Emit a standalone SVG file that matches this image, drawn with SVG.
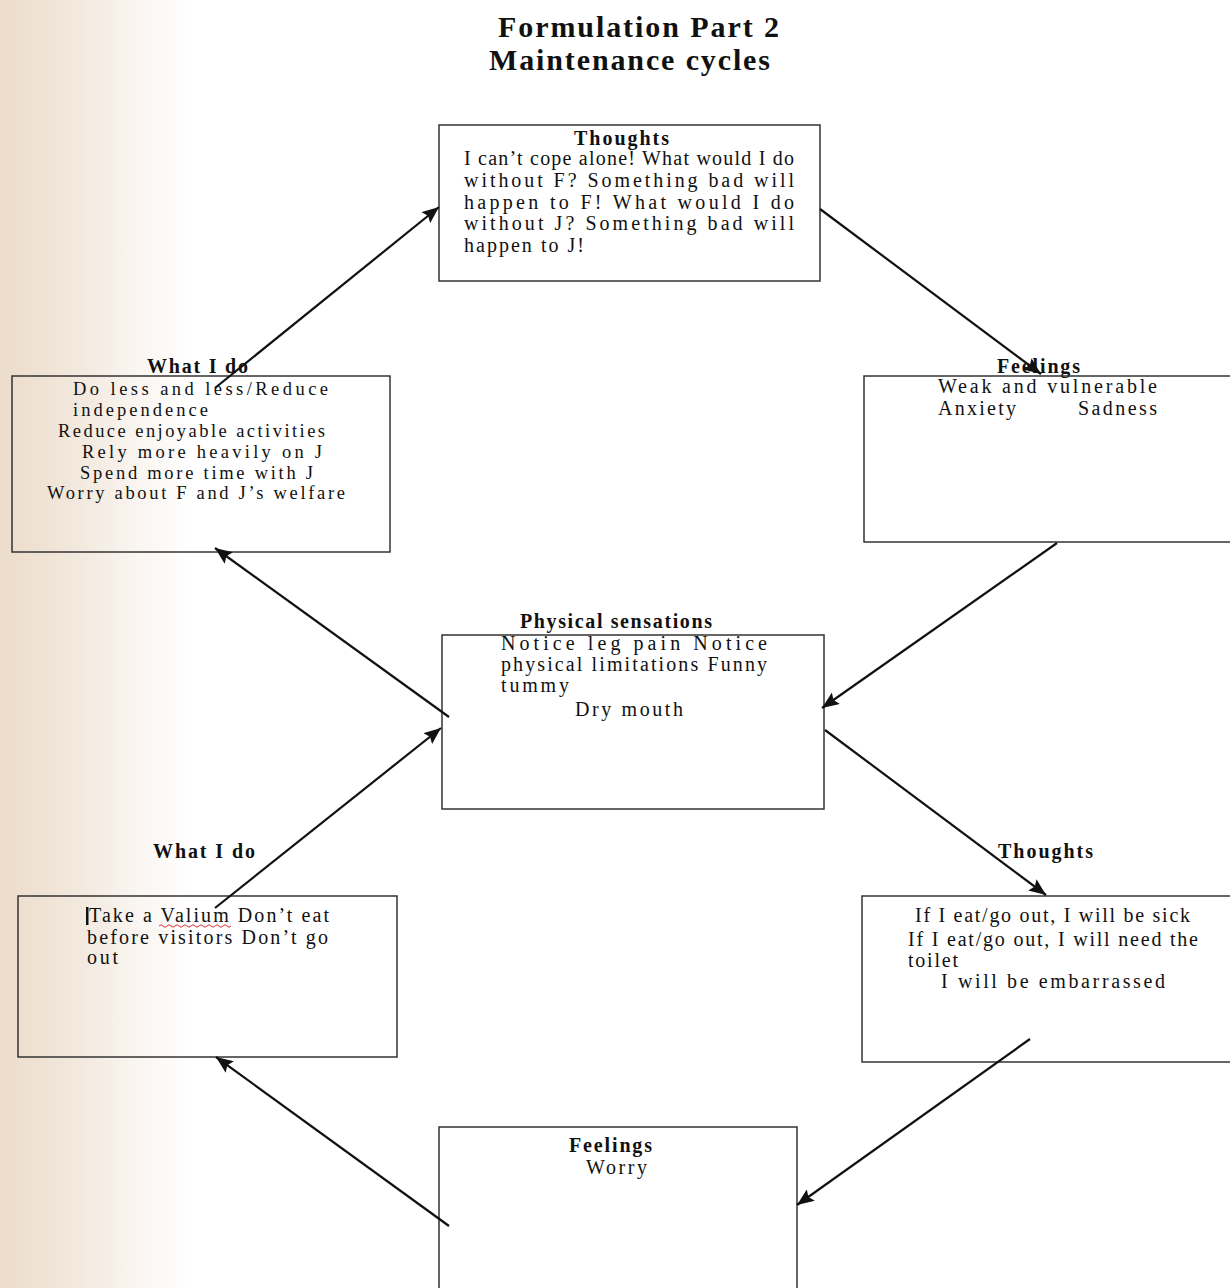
<svg xmlns="http://www.w3.org/2000/svg" width="1230" height="1288" viewBox="0 0 1230 1288">
<defs>
<linearGradient id="bg" x1="0" y1="0" x2="1" y2="0">
<stop offset="0" stop-color="#ecdccb"/>
<stop offset="0.4" stop-color="#f2e8dd"/>
<stop offset="0.75" stop-color="#faf6f2"/>
<stop offset="1" stop-color="#ffffff"/>
</linearGradient>
<marker id="arr" markerUnits="userSpaceOnUse" markerWidth="18" markerHeight="14" refX="17" refY="7" orient="auto">
<path d="M0,0 L17,7 L0,14 L3,7 z" fill="#111"/>
</marker>
</defs>
<style>
.box{fill:none;stroke:#333;stroke-width:1.5}
.t{font-family:"Liberation Serif","Times New Roman",serif;font-size:20px;fill:#111}
.s{font-size:18.5px}
.h{font-family:"Liberation Serif","Times New Roman",serif;font-size:20px;font-weight:bold;fill:#111}
.title{font-family:"Liberation Serif","Times New Roman",serif;font-size:30px;font-weight:bold;fill:#111}
.c{fill:none;stroke:#111;stroke-width:2.2;marker-end:url(#arr)}
</style>
<rect x="0" y="0" width="1230" height="1288" fill="#fff"/>
<rect x="0" y="0" width="190" height="1288" fill="url(#bg)"/>

<g id="title">
<text class="title" x="498" y="37" textLength="281" lengthAdjust="spacing">Formulation Part 2</text>
<text class="title" x="489" y="70" textLength="281" lengthAdjust="spacing">Maintenance cycles</text>
</g>

<g id="thoughts-top">
<rect class="box" x="439" y="125" width="381" height="156"/>
<text class="h" x="574" y="145" textLength="95" lengthAdjust="spacing">Thoughts</text>
<text class="t" x="464" y="165" textLength="330" lengthAdjust="spacing">I can’t cope alone! What would I do</text>
<text class="t" x="464" y="187" textLength="330" lengthAdjust="spacing">without F? Something bad will</text>
<text class="t" x="464" y="209" textLength="330" lengthAdjust="spacing">happen to F! What would I do</text>
<text class="t" x="464" y="230" textLength="330" lengthAdjust="spacing">without J? Something bad will</text>
<text class="t" x="464" y="252" textLength="120" lengthAdjust="spacing">happen to J!</text>
</g>

<g id="whatido-top">
<text class="h" x="147" y="373" textLength="101" lengthAdjust="spacing">What I do</text>
<rect class="box" x="12" y="376" width="378" height="176"/>
<text class="t s" x="73" y="395" textLength="255" lengthAdjust="spacing">Do less and less/Reduce</text>
<text class="t s" x="73" y="416" textLength="135" lengthAdjust="spacing">independence</text>
<text class="t s" x="58" y="437" textLength="267" lengthAdjust="spacing">Reduce enjoyable activities</text>
<text class="t s" x="82" y="458" textLength="240" lengthAdjust="spacing">Rely more heavily on J</text>
<text class="t s" x="80" y="479" textLength="233" lengthAdjust="spacing">Spend more time with J</text>
<text class="t s" x="47" y="499" textLength="298" lengthAdjust="spacing">Worry about F and J’s welfare</text>
</g>

<g id="feelings-top">
<text class="h" x="997" y="373" textLength="83" lengthAdjust="spacing">Feelings</text>
<rect class="box" x="864" y="376" width="370" height="166"/>
<text class="t" x="938" y="393" textLength="219" lengthAdjust="spacing">Weak and vulnerable</text>
<text class="t" x="938" y="415" textLength="78" lengthAdjust="spacing">Anxiety</text>
<text class="t" x="1078" y="415" textLength="79" lengthAdjust="spacing">Sadness</text>
</g>

<g id="physical">
<text class="h" x="520" y="628" textLength="192" lengthAdjust="spacing">Physical sensations</text>
<rect class="box" x="442" y="635" width="382" height="174"/>
<text class="t" x="501" y="650" textLength="266" lengthAdjust="spacing">Notice leg pain Notice</text>
<text class="t" x="501" y="671" textLength="266" lengthAdjust="spacing">physical limitations Funny</text>
<text class="t" x="501" y="692" textLength="68" lengthAdjust="spacing">tummy</text>
<text class="t" x="575" y="716" textLength="108" lengthAdjust="spacing">Dry mouth</text>
</g>

<g id="whatido-bottom">
<text class="h" x="153" y="858" textLength="102" lengthAdjust="spacing">What I do</text>
<rect class="box" x="18" y="896" width="379" height="161"/>
<rect x="86" y="907" width="2.5" height="18" fill="#111"/>
<text class="t" x="89" y="922" textLength="240" lengthAdjust="spacing">Take a Valium Don’t eat</text>
<path d="M159,926 q2,-2.5 4,0 t4,0 t4,0 t4,0 t4,0 t4,0 t4,0 t4,0 t4,0 t4,0 t4,0 t4,0 t4,0 t4,0 t4,0 t4,0 t4,0 t4,0" fill="none" stroke="#e03030" stroke-width="1"/>
<text class="t" x="87" y="944" textLength="241" lengthAdjust="spacing">before visitors Don’t go</text>
<text class="t" x="87" y="964" textLength="31" lengthAdjust="spacing">out</text>
</g>

<g id="thoughts-bottom">
<text class="h" x="998" y="858" textLength="95" lengthAdjust="spacing">Thoughts</text>
<rect class="box" x="862" y="896" width="372" height="166"/>
<text class="t" x="915" y="922" textLength="275" lengthAdjust="spacing">If I eat/go out, I will be sick</text>
<text class="t" x="908" y="946" textLength="290" lengthAdjust="spacing">If I eat/go out, I will need the</text>
<text class="t" x="908" y="967" textLength="50" lengthAdjust="spacing">toilet</text>
<text class="t" x="941" y="988" textLength="224" lengthAdjust="spacing">I will be embarrassed</text>
</g>

<g id="feelings-bottom">
<rect class="box" x="439" y="1127" width="358" height="170"/>
<text class="h" x="569" y="1152" textLength="83" lengthAdjust="spacing">Feelings</text>
<text class="t" x="586" y="1174" textLength="61" lengthAdjust="spacing">Worry</text>
</g>

<g id="connectors">
<line class="c" x1="215" y1="388" x2="439" y2="207"/>
<line class="c" x1="820" y1="209" x2="1041" y2="374"/>
<line class="c" x1="1057" y1="543" x2="822" y2="708"/>
<line class="c" x1="449" y1="717" x2="215" y2="548"/>
<line class="c" x1="215" y1="908" x2="441" y2="728"/>
<line class="c" x1="825" y1="730" x2="1046" y2="895"/>
<line class="c" x1="1030" y1="1039" x2="797" y2="1205"/>
<line class="c" x1="449" y1="1226" x2="216" y2="1057"/>
</g>
</svg>
